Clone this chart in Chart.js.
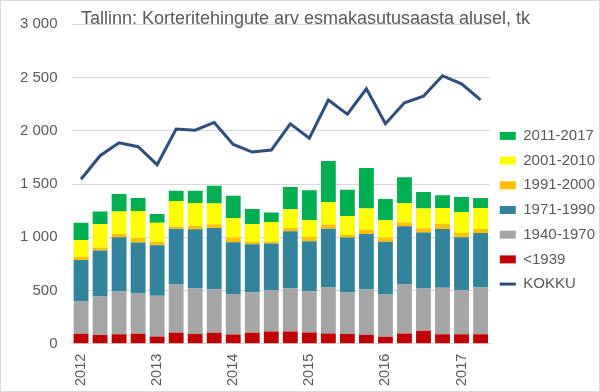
<!DOCTYPE html>
<html>
<head>
<meta charset="utf-8">
<script src="https://cdn.jsdelivr.net/npm/chart.js@4/dist/chart.umd.min.js"></script>
<style>
html,body{margin:0;padding:0;background:#fff;}
#wrap{width:600px;height:392px;position:relative;}
</style>
</head>
<body>
<div id="wrap"><canvas id="c" width="600" height="392"></canvas></div>
<script>
const titleText = 'Tallinn: Korteritehingute arv esmakasutusaasta alusel, tk';
const quarters = ['2012 Q1','2012 Q2','2012 Q3','2012 Q4','2013 Q1','2013 Q2','2013 Q3','2013 Q4',
  '2014 Q1','2014 Q2','2014 Q3','2014 Q4','2015 Q1','2015 Q2','2015 Q3','2015 Q4',
  '2016 Q1','2016 Q2','2016 Q3','2016 Q4','2017 Q1','2017 Q2'];
const yearTicks = ['2012','','','','2013','','','','2014','','','','2015','','','','2016','','','','2017',''];
const seriesNames = ['<1939','1940-1970','1971-1990','1991-2000','2001-2010','2011-2017'];
const pre1939   = [94,81,88,94,69,104,91,103,87,103,116,116,106,97,91,84,66,97,122,88,88,88];
const y1940_1970 = [303,363,403,378,381,452,428,409,379,381,386,403,388,431,390,425,397,459,397,437,415,440];
const y1971_1990 = [390,431,509,478,475,525,556,575,487,450,440,537,469,553,516,522,496,547,525,553,497,513];
const y1991_2000 = [29,28,31,44,34,19,34,35,44,25,18,32,40,38,25,41,38,35,40,50,41,37];
const y2001_2010 = [159,219,210,253,178,241,213,194,181,163,183,175,156,209,178,197,162,181,185,147,197,197];
const y2011_2017 = [162,119,165,122,82,96,115,168,213,144,90,209,282,388,247,381,200,244,156,119,140,94];
const kokku = [1545,1766,1887,1850,1681,2016,2006,2078,1872,1800,1819,2066,1931,2288,2156,2394,2066,2263,2325,2516,2441,2291];
const yTickValues = [0,500,1000,1500,2000,2500,3000];

const barColors = ['#C00000','#A5A5A5','#31849B','#FFC000','#FFFF00','#00B050'];
const lineColor = '#2E4D7B';
const textColor = '#595959';
const FONT = "'Liberation Sans', Arial, sans-serif";

const barSeries = [pre1939, y1940_1970, y1971_1990, y1991_2000, y2001_2010, y2011_2017];

const datasets = [{
  type: 'line', label: 'KOKKU', data: kokku, stack: 'total',
  borderColor: lineColor, backgroundColor: lineColor, borderWidth: 3,
  pointRadius: 0, pointHoverRadius: 0, tension: 0
}];
barSeries.forEach((d, i) => datasets.push({
  type: 'bar', label: seriesNames[i], data: d, stack: 'bars',
  backgroundColor: barColors[i], borderWidth: 0,
  categoryPercentage: 1, barPercentage: 0.78
}));

const frame = {
  id: 'frame',
  beforeDraw(chart) {
    const c = chart.ctx; c.save(); c.fillStyle = '#fff'; c.fillRect(0,0,chart.width,chart.height); c.restore();
  },
  afterDraw(chart) {
    const c = chart.ctx; c.save(); c.strokeStyle = '#D9D9D9'; c.lineWidth = 1;
    c.strokeRect(0.5,0.5,chart.width-1,chart.height-1); c.restore();
  }
};
const legendShift = {
  id: 'legendShift',
  afterLayout(chart) {
    const lg = chart.legend; if (!lg) return;
    const dy = 12; lg.top += dy; lg.bottom += dy;
  }
};

new Chart(document.getElementById('c'), {
  data: { labels: quarters, datasets },
  options: {
    responsive: false, animation: false,
    layout: { padding: { left: 6, right: -5, top: 0, bottom: -4 } },
    plugins: {
      title: {
        display: true, text: titleText, color: textColor,
        font: { family: FONT, size: 18, weight: 'normal' },
        padding: { top: 8, bottom: -5.3 }
      },
      legend: {
        position: 'right', reverse: true, align: 'center',
        labels: {
          color: textColor, font: { family: FONT, size: 15 },
          usePointStyle: true, pointStyleWidth: 16, boxWidth: 16, boxHeight: 8, padding: 9.7,
          generateLabels(chart) {
            const items = Chart.defaults.plugins.legend.labels.generateLabels(chart);
            items.forEach(it => {
              const ds = chart.data.datasets[it.datasetIndex];
              if (ds.type === 'line') { it.pointStyle = 'line'; it.lineWidth = 3; it.strokeStyle = ds.borderColor; it.fillStyle = ds.borderColor; }
              else { it.pointStyle = 'rect'; it.lineWidth = 0; it.fillStyle = ds.backgroundColor; it.strokeStyle = ds.backgroundColor; }
            });
            return items;
          }
        }
      },
      tooltip: { enabled: false }
    },
    scales: {
      x: {
        stacked: true,
        grid: { display: false, drawTicks: false },
        border: { display: true, color: '#D9D9D9' },
        ticks: {
          autoSkip: false, minRotation: 90, maxRotation: 90, padding: 10,
          color: textColor, font: { family: FONT, size: 14.5 },
          callback: (v, i) => yearTicks[i]
        }
      },
      y: {
        stacked: true, min: 0, max: 3000,
        afterBuildTicks(scale) { scale.ticks = yTickValues.map(v => ({ value: v })); },
        grid: { color: '#D9D9D9', drawTicks: false },
        border: { display: false },
        ticks: {
          padding: 14, color: textColor, font: { family: FONT, size: 15 },
          callback: v => v >= 1000 ? Math.floor(v/1000) + ' ' + String(v % 1000).padStart(3,'0') : String(v)
        }
      }
    }
  },
  plugins: [frame, legendShift]
});
</script>
</body>
</html>
